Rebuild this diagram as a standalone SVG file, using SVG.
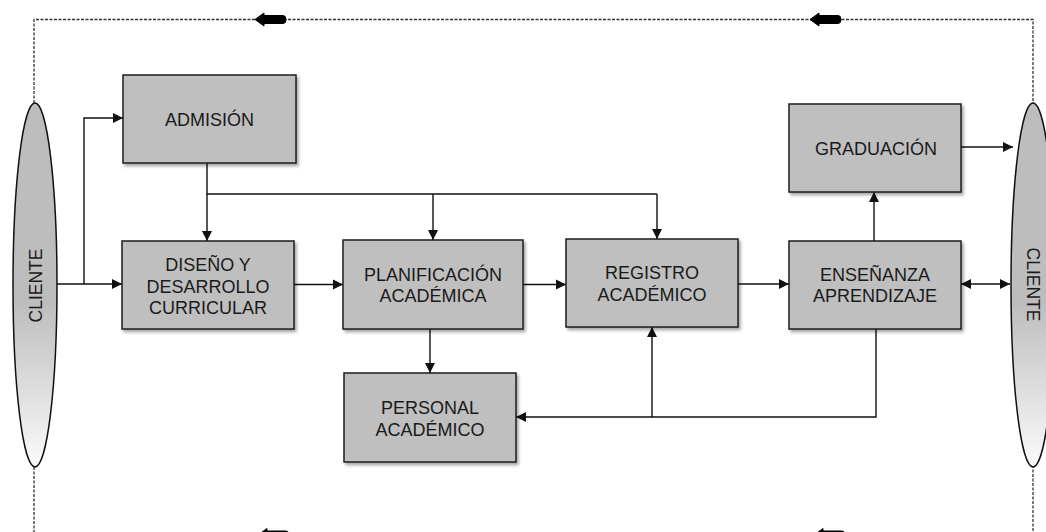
<svg xmlns="http://www.w3.org/2000/svg" width="1046" height="532" viewBox="0 0 1046 532">
<defs>
<marker id="ah" markerUnits="userSpaceOnUse" markerWidth="10" markerHeight="11" refX="10" refY="5.5" orient="auto-start-reverse">
<path d="M0,0.5 L10,5.5 L0,10.5 z" fill="#111"/>
</marker>
<linearGradient id="cg" x1="0" y1="0" x2="0" y2="1">
<stop offset="0" stop-color="#bdbdbd"/>
<stop offset="0.55" stop-color="#bdbdbd"/>
<stop offset="1" stop-color="#fbfbfb"/>
</linearGradient>
<filter id="sh" x="-10%" y="-10%" width="125%" height="130%">
<feDropShadow dx="2" dy="2.5" stdDeviation="1.5" flood-color="#000" flood-opacity="0.35"/>
</filter>
<path id="fat" d="M0,0 L9,-6.5 L9,-4 L28,-4 Q31,-4 31,0 Q31,4 28,4 L9,4 L9,6.5 z" fill="#000" stroke="#000" stroke-width="1" stroke-linejoin="round"/>
</defs>
<style>
.box{fill:#bfbfbf;stroke:#1e1e1e;stroke-width:1.5;filter:url(#sh)}
.t{font-family:"Liberation Sans",Arial,sans-serif;font-size:18px;fill:#1a1a1a;text-anchor:middle}
.c{fill:none;stroke:#111;stroke-width:1.4}
.a{marker-end:url(#ah)}
.d{fill:none;stroke:#333;stroke-width:1.3;stroke-dasharray:3 1.5}
.cl{fill:url(#cg);stroke:#111;stroke-width:1.5}
</style>
<rect width="1046" height="532" fill="#fff"/>

<g id="feedback">
<path class="d" d="M34,103 V19.5 H1033 V103"/>
<path class="d" d="M34,467 V535 H1033 V467"/>
<use href="#fat" x="255" y="19.5"/>
<use href="#fat" x="810" y="19.5"/>
<use href="#fat" x="258" y="535"/>
<use href="#fat" x="814" y="535"/>
</g>

<g id="cliente-izq">
<ellipse class="cl" cx="35" cy="285" rx="22" ry="182"/>
<text class="t" transform="translate(42,285.5) rotate(-90)" style="font-size:17.5px">CLIENTE</text>
</g>
<g id="cliente-der">
<ellipse class="cl" cx="1033" cy="285" rx="22" ry="182"/>
<text class="t" transform="translate(1027,284.5) rotate(90)" style="font-size:17.5px">CLIENTE</text>
</g>

<g id="connectors">
<path class="c a" d="M57,284 H122"/>
<path class="c a" d="M84,284 V118 H123"/>
<path class="c" d="M207,163 V194 H657"/>
<path class="c a" d="M207,194 V241"/>
<path class="c a" d="M433,194 V240"/>
<path class="c a" d="M657,194 V239"/>
<path class="c a" d="M294,284.5 H343"/>
<path class="c a" d="M523,284.5 H566"/>
<path class="c a" d="M738,284 H789"/>
<path class="c a" d="M961,284 H1010" style="marker-start:url(#ah)"/>
<path class="c a" d="M874,241 V192"/>
<path class="c a" d="M961,147 H1013"/>
<path class="c a" d="M430,329 V373"/>
<path class="c a" d="M876,329 V417 H516"/>
<path class="c a" d="M652,417 V327"/>
</g>

<g id="admision">
<rect class="box" x="123" y="75" width="173" height="88"/>
<text class="t" x="209.5" y="125.5">ADMISIÓN</text>
</g>
<g id="diseno">
<rect class="box" x="122" y="241" width="172" height="88"/>
<text class="t" x="208" y="271">DISEÑO Y</text>
<text class="t" x="208" y="292.5">DESARROLLO</text>
<text class="t" x="208" y="313.5">CURRICULAR</text>
</g>
<g id="planificacion">
<rect class="box" x="343" y="240" width="180" height="89"/>
<text class="t" x="433" y="280.5">PLANIFICACIÓN</text>
<text class="t" x="433" y="301.5">ACADÉMICA</text>
</g>
<g id="registro">
<rect class="box" x="566" y="239" width="172" height="88"/>
<text class="t" x="652" y="279">REGISTRO</text>
<text class="t" x="652" y="300.5">ACADÉMICO</text>
</g>
<g id="ensenanza">
<rect class="box" x="789" y="241" width="172" height="88"/>
<text class="t" x="875" y="281">ENSEÑANZA</text>
<text class="t" x="875" y="301.5">APRENDIZAJE</text>
</g>
<g id="graduacion">
<rect class="box" x="789" y="104" width="172" height="88"/>
<text class="t" x="876" y="154.5">GRADUACIÓN</text>
</g>
<g id="personal">
<rect class="box" x="344" y="373" width="172" height="89"/>
<text class="t" x="430" y="414">PERSONAL</text>
<text class="t" x="430" y="436">ACADÉMICO</text>
</g>
</svg>
